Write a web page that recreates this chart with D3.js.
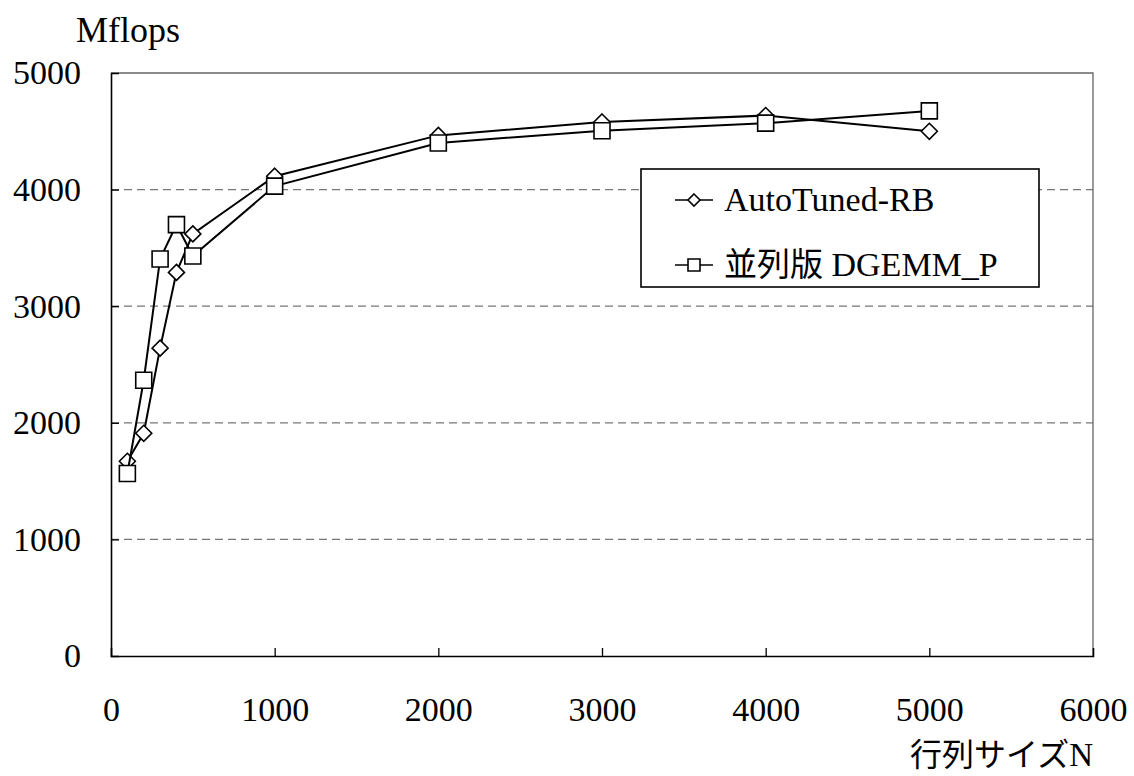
<!DOCTYPE html>
<html lang="ja">
<head>
  <meta charset="UTF-8">
  <title>Mflops vs 行列サイズN</title>
  <style>
    body { margin: 0; background: #fff; }
    svg text { font-family: "Liberation Serif", "Times New Roman", Times, "DejaVu Serif", serif; fill: #000; }
    svg text .jp { font-family: "Noto Sans CJK JP", "Noto Sans CJK SC", sans-serif; }
  </style>
</head>
<body>
  <svg id="chart"></svg>
  <script src="https://d3js.org/d3.v7.min.js"></script>
  <script>
    // data
    const sizes = [100, 200, 300, 400, 500, 1000, 2000, 3000, 4000, 5000];
    const autoTuned = [1670, 1910, 2640, 3290, 3620, 4115, 4465, 4580, 4635, 4500];
    const dgemmP = [1565, 2365, 3405, 3700, 3430, 4030, 4400, 4505, 4570, 4675];
    const xTicks = [0, 1000, 2000, 3000, 4000, 5000, 6000];
    const yTicks = [0, 1000, 2000, 3000, 4000, 5000];
    const seriesNames = ["AutoTuned-RB", "並列版 DGEMM_P"];

    const width = 1134, height = 776;
    const m = { left: 111, right: 1093, top: 73, bottom: 656 };
    const serif = "'Liberation Serif', 'Times New Roman', Times, 'DejaVu Serif', serif";

    const svg = d3.select("#chart").attr("width", width).attr("height", height);

    const x = d3.scaleLinear().domain([0, 6000]).range([m.left, m.right]);
    const y = d3.scaleLinear().domain([0, 5000]).range([m.bottom, m.top]);

    // grid
    svg.append("g")
      .selectAll("line")
      .data(yTicks.filter(d => d > 0 && d < 5000))
      .enter().append("line")
      .attr("x1", m.left).attr("x2", m.right)
      .attr("y1", d => y(d)).attr("y2", d => y(d))
      .attr("stroke", "#777").attr("stroke-width", 1.3)
      .attr("stroke-dasharray", "8,5");

    // plot frame (top and right)
    svg.append("path")
      .attr("d", `M${m.left},${m.top}H${m.right}V${m.bottom}`)
      .attr("fill", "none").attr("stroke", "#666").attr("stroke-width", 1.3);

    // axes
    const xAxis = svg.append("g")
      .attr("transform", `translate(0,${m.bottom})`)
      .call(d3.axisBottom(x).tickValues(xTicks).tickSize(-8).tickPadding(65).tickFormat(d3.format("d")));
    const yAxis = svg.append("g")
      .attr("transform", `translate(${m.left},0)`)
      .call(d3.axisLeft(y).tickValues(yTicks).tickSize(-8).tickPadding(30).tickFormat(d3.format("d")));
    [xAxis, yAxis].forEach(a => {
      a.attr("font-family", serif).attr("font-size", 34);
      a.select(".domain").attr("stroke", "#000").attr("stroke-width", 1.6);
      a.selectAll(".tick line").attr("stroke", "#000").attr("stroke-width", 1.3);
      a.selectAll("text").attr("fill", "#000");
    });
    xAxis.selectAll(".tick text").attr("dy", "0");
    xAxis.selectAll(".tick line").filter(d => d === 0 || d === 6000).remove();
    yAxis.selectAll(".tick line").filter(d => d === 0 || d === 5000).remove();

    // axis titles
    svg.append("text").attr("x", 76).attr("y", 42)
      .attr("font-size", 36).text("Mflops");
    svg.append("text").attr("x", m.right).attr("y", 766)
      .attr("text-anchor", "end").attr("font-size", 33)
      .call(t => {
        t.append("tspan").attr("class", "jp").attr("font-size", 32).text("行列サイズ");
        t.append("tspan").text("N");
      });

    const line = d3.line().x(d => x(d[0])).y(d => y(d[1]));
    const diamond = "M0,-8L8,0L0,8L-8,0Z";
    const square = "M-8,-8H8V8H-8Z";

    const series = [
      { name: seriesNames[0], values: autoTuned, shape: diamond },
      { name: seriesNames[1], values: dgemmP, shape: square }
    ];

    series.forEach(s => {
      const pts = sizes.map((n, i) => [n, s.values[i]]);
      svg.append("path").datum(pts)
        .attr("d", line).attr("fill", "none")
        .attr("stroke", "#000").attr("stroke-width", 2);
      svg.append("g").selectAll("path")
        .data(pts).enter().append("path")
        .attr("d", s.shape)
        .attr("transform", d => `translate(${x(d[0])},${y(d[1])})`)
        .attr("fill", "#fff").attr("stroke", "#000").attr("stroke-width", 1.6);
    });

    // legend
    const lg = svg.append("g");
    lg.append("rect").attr("x", 641).attr("y", 169).attr("width", 398).attr("height", 118)
      .attr("fill", "#fff").attr("stroke", "#000").attr("stroke-width", 1.6);
    series.forEach((s, i) => {
      const cy = 200 + i * 65;
      lg.append("line").attr("x1", 675).attr("x2", 713).attr("y1", cy).attr("y2", cy)
        .attr("stroke", "#000").attr("stroke-width", 1.6);
      lg.append("path").attr("d", i === 0 ? "M0,-6L6,0L0,6L-6,0Z" : "M-6,-6H6V6H-6Z")
        .attr("transform", `translate(694,${cy})`)
        .attr("fill", "#fff").attr("stroke", "#000").attr("stroke-width", 1.6);
      const t = lg.append("text").attr("x", 724).attr("y", cy + 11).attr("font-size", 34);
      if (i === 0) {
        t.text(s.name);
      } else {
        const parts = s.name.split(" ");
        t.append("tspan").attr("class", "jp").attr("font-size", 33).text(parts[0]);
        t.append("tspan").text(" " + parts[1]);
      }
    });
  </script>
</body>
</html>
